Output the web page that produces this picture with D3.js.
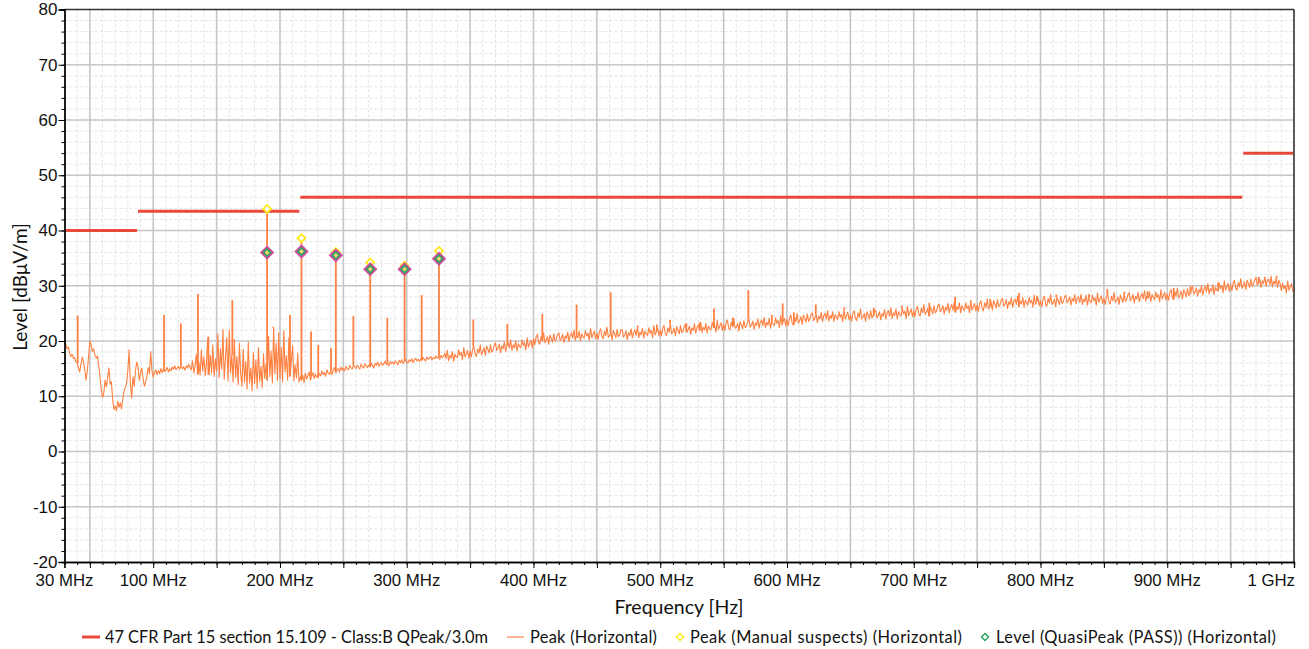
<!DOCTYPE html>
<html><head><meta charset="utf-8">
<script src="https://cdn.jsdelivr.net/npm/d3@7"></script>
<style>
body{margin:0;background:#fff;}
svg{display:block;font-family:"Segoe UI",Lato,"Noto Sans",sans-serif;}
</style></head><body>
<svg id="c" width="1309" height="649"></svg>
<script>
// ---------- data ----------
const peakStartMHz = 30;
const peakStepMHz = 1;
const peakLevels = [
20.2,19.5,18.6,18.9,17.8,17.2,17.6,16.8,17.0,16.3,
16.0,15.2,14.4,15.8,17.1,16.2,14.8,12.9,14.6,17.2,
20.0,19.3,18.1,18.6,17.4,16.9,17.3,15.6,13.6,11.2,
9.8,10.6,12.9,11.7,13.4,15.1,12.2,12.6,9.4,7.6,
8.2,7.4,9.1,8.0,8.8,7.7,9.5,10.9,11.6,12.4,
14.8,18.2,12.1,9.7,13.5,11.8,14.6,16.2,15.4,12.9,
14.3,15.1,13.2,11.8,12.6,13.5,15.2,14.1,18.1,14.6,
13.5,14.2,14.8,13.9,14.6,14.1,15.0,14.3,14.8,14.5,
14.7,15.2,14.4,15.0,14.6,15.3,14.9,15.5,14.8,15.1,
15.4,14.9,15.6,15.0,15.3,14.7,15.5,15.1,15.8,15.2,
14.8,16.4,14.2,15.5,17.6,14.0,16.2,13.8,18.4,14.6,
17.1,13.7,15.9,20.5,13.9,17.4,14.2,19.3,13.6,16.8,
14.5,21.3,13.4,18.6,14.9,22.1,13.1,16.9,20.6,12.8,
22.0,14.2,17.5,12.6,20.3,13.4,17.2,12.1,19.6,14.0,
11.8,18.5,12.6,16.3,11.3,19.8,12.4,15.1,11.0,17.9,
12.3,16.6,11.4,18.8,12.7,15.4,11.6,17.7,13.2,15.9,
12.9,20.8,13.6,18.2,12.4,22.4,14.1,19.6,12.8,21.5,
13.3,18.9,12.6,21.9,14.4,17.3,12.9,20.6,13.6,16.4,
19.2,12.8,15.7,13.3,17.8,12.6,13.5,12.9,13.8,12.5,
14.2,13.1,13.7,14.4,12.9,13.6,14.3,13.2,14.0,13.5,
13.4,14.1,13.7,14.6,13.9,14.3,13.6,14.8,14.2,14.0,
14.5,13.9,14.7,15.2,14.3,14.8,15.0,14.4,15.3,14.7,
15.1,14.6,15.4,15.0,14.8,15.6,15.2,14.9,15.7,15.3,
15.0,15.6,15.2,14.9,15.8,15.4,15.1,15.9,15.5,15.2,
15.7,15.3,16.0,15.5,15.1,15.9,15.6,16.2,15.4,15.8,
16.1,15.6,15.9,16.4,15.7,16.0,15.5,16.3,15.9,16.2,
15.8,16.4,16.0,15.7,16.5,16.1,16.6,15.9,16.3,16.7,
16.2,16.0,16.6,16.3,16.8,16.1,16.5,16.9,16.4,16.7,
16.3,16.8,16.5,17.0,16.6,16.4,17.1,16.7,16.9,17.2,
16.6,17.0,16.8,17.3,16.9,17.1,16.7,17.4,17.0,17.2,
17.8,16.8,18.3,16.4,17.4,16.9,18.1,16.3,17.6,17.1,
17.0,18.4,17.4,17.9,16.6,18.8,17.1,17.7,18.3,16.9,
18.2,17.1,18.5,19.0,17.6,17.2,18.6,17.8,19.3,17.5,
18.1,18.8,17.4,19.1,18.5,17.8,19.3,18.0,18.3,19.2,
19.7,18.3,18.7,19.4,17.9,19.1,18.6,19.8,18.1,19.2,
19.7,18.7,20.2,18.3,19.3,18.8,20.0,18.2,19.5,19.0,
18.8,20.2,19.2,19.7,18.4,20.6,18.9,19.5,20.1,18.7,
20.4,19.3,20.7,21.2,19.8,19.4,20.8,20.0,21.5,19.7,
20.1,20.8,19.4,21.1,20.5,19.8,21.3,20.0,20.3,21.2,
21.5,20.1,20.5,21.2,19.7,20.9,20.4,21.6,19.9,21.0,
21.5,20.5,22.0,20.1,21.1,20.6,21.8,20.0,21.3,20.8,
20.5,21.9,20.9,21.4,20.1,22.3,20.6,21.2,21.8,20.4,
21.4,20.3,21.7,22.2,20.8,20.4,21.8,21.0,22.5,20.7,
20.9,21.6,20.2,21.9,21.3,20.6,22.1,20.8,21.1,22.0,
22.1,20.7,21.1,21.8,20.3,21.5,21.0,22.2,20.5,21.6,
22.0,21.0,22.5,20.6,21.6,21.1,22.3,20.5,21.8,21.3,
21.0,22.4,21.4,21.9,20.6,22.8,21.1,21.7,22.3,20.9,
22.0,20.9,22.3,22.8,21.4,21.0,22.4,21.6,23.1,21.3,
21.6,22.3,20.9,22.6,22.0,21.3,22.8,21.5,21.8,22.7,
23.0,21.6,22.0,22.7,21.2,22.4,21.9,23.1,21.4,22.5,
22.9,21.9,23.4,21.5,22.5,22.0,23.2,21.4,22.7,22.2,
22.0,23.4,22.4,22.9,21.6,23.8,22.1,22.7,23.3,21.9,
23.0,21.9,23.3,23.8,22.4,22.0,23.4,22.6,24.1,22.3,
22.5,23.2,21.8,23.5,22.9,22.2,23.7,22.4,22.7,23.6,
23.9,22.5,22.9,23.6,22.1,23.3,22.8,24.0,22.3,23.4,
23.8,22.8,24.3,22.4,23.4,22.9,24.1,22.3,23.6,23.1,
22.8,24.2,23.2,23.7,22.4,24.6,22.9,23.5,24.1,22.7,
23.9,22.8,24.2,24.7,23.3,22.9,24.3,23.5,25.0,23.2,
23.7,24.4,23.0,24.7,24.1,23.4,24.9,23.6,23.9,24.8,
25.1,23.7,24.1,24.8,23.3,24.5,24.0,25.2,23.5,24.6,
25.0,24.0,25.5,23.6,24.6,24.1,25.3,23.5,24.8,24.3,
23.9,25.3,24.3,24.8,23.5,25.7,24.0,24.6,25.2,23.8,
24.7,23.6,25.0,25.5,24.1,23.7,25.1,24.3,25.8,24.0,
24.3,25.0,23.6,25.3,24.7,24.0,25.5,24.2,24.5,25.4,
25.6,24.2,24.6,25.3,23.8,25.0,24.5,25.7,24.0,25.1,
25.5,24.5,26.0,24.1,25.1,24.6,25.8,24.0,25.3,24.8,
24.5,25.9,24.9,25.4,24.1,26.3,24.6,25.2,25.8,24.4,
25.5,24.4,25.8,26.3,24.9,24.5,25.9,25.1,26.6,24.8,
25.2,25.9,24.5,26.2,25.6,24.9,26.4,25.1,25.4,26.3,
26.7,25.3,25.7,26.4,24.9,26.1,25.6,26.8,25.1,26.2,
26.6,25.6,27.1,25.2,26.2,25.7,26.9,25.1,26.4,25.9,
25.5,26.9,25.9,26.4,25.1,27.3,25.6,26.2,26.8,25.4,
26.5,25.4,26.8,27.3,25.9,25.5,26.9,26.1,27.6,25.8,
26.3,27.0,25.6,27.3,26.7,26.0,27.5,26.2,26.5,27.4,
27.7,26.3,26.7,27.4,25.9,27.1,26.6,27.8,26.1,27.2,
27.6,26.6,28.1,26.2,27.2,26.7,27.9,26.1,27.4,26.9,
26.5,27.9,26.9,27.4,26.1,28.3,26.6,27.2,27.8,26.4,
27.3,26.2,27.6,28.1,26.7,26.3,27.7,26.9,28.4,26.6,
26.9,27.6,26.2,27.9,27.3,26.6,28.1,26.8,27.1,28.0,
28.3,26.9,27.3,28.0,26.5,27.7,27.2,28.4,26.7,27.8,
28.0,27.0,28.5,26.6,27.6,27.1,28.3,26.5,27.8,27.3,
26.9,28.3,27.3,27.8,26.5,28.7,27.0,27.6,28.2,26.8,
27.7,26.6,28.0,28.5,27.1,26.7,28.1,27.3,28.8,27.0,
27.3,28.0,26.6,28.3,27.7,27.0,28.5,27.2,27.5,28.4,
28.7,27.3,27.7,28.4,26.9,28.1,27.6,28.8,27.1,28.2,
28.6,27.6,29.1,27.2,28.2,27.7,28.9,27.1,28.4,27.9,
27.5,28.9,27.9,28.4,27.1,29.3,27.6,28.2,28.8,27.4,
28.5,27.4,28.8,29.3,27.9,27.5,28.9,28.1,29.6,27.8,
28.3,29.0,27.6,29.3,28.7,28.0,29.5,28.2,28.5,29.4,
29.9,28.5,28.9,29.6,28.1,29.3,28.8,30.0,28.3,29.4,
29.9,28.9,30.4,28.5,29.5,29.0,30.2,28.4,29.7,29.2,
29.1,30.5,29.5,30.0,28.7,30.9,29.2,29.8,30.4,29.0,
30.2,29.1,30.5,31.0,29.6,29.2,30.6,29.8,31.3,29.5,
30.0,30.7,29.3,31.0,30.4,29.7,31.2,29.9,30.2,31.1,
31.5,30.1,30.5,31.2,29.7,30.9,30.4,31.6,29.9,31.0,
31.2,30.2,31.7,29.8,30.8,30.3,31.5,29.7,31.0,30.5,
29.1,30.5,29.5,30.0,28.7,30.9,29.2,29.8,30.4,29.0,
29.2
];
const spikeFreqs  = [40.4,81.0,108.5,121.8,135.3,143.5,162.4,189.84,194.7,207.9,216.96,224.5,230.2,240.3,244.08,257.9,271.2,284.7,298.32,311.8,325.44,352.5,379.4,407.0,434.0,460.9,482.3,497.4,507.7,520.6,531.2,542.4,557.3,569.5,588.1,596.6,605.4,622.7,645.2,668.4,690.6,712.3,732.6,745.1,760.4,783.0,797.2,812.5,838.3,852.7,866.2,884.4,905.1,918.3,940.2,958.4,972.1,986.4];
const spikeLevels = [24.6,18.4,24.7,23.2,28.5,20.8,27.4,43.9,22.6,24.7,38.6,21.7,19.3,18.7,36.1,24.5,34.2,24.2,33.6,28.3,36.3,23.9,23.1,24.9,26.6,28.8,22.8,23.0,23.8,23.2,23.4,25.9,24.2,29.2,24.7,26.8,25.2,26.6,26.1,26.0,26.4,26.9,28.0,27.4,27.6,28.7,28.2,28.4,28.5,29.4,28.9,29.0,29.6,29.9,30.6,31.3,31.6,31.8];

const limitStartMHz = [30, 88, 216, 960];
const limitEndMHz   = [88, 216, 960, 1000];
const limitLevels   = [40, 43.5, 46, 54];

const suspectFreqs = [189.84, 216.96, 244.08, 271.2, 298.32, 325.44];
const suspectPeaks = [43.9, 38.6, 36.1, 34.2, 33.6, 36.3];
const qpLevels     = [36.0, 36.2, 35.5, 33.0, 33.0, 34.9];

const xTickValues = [30,100,200,300,400,500,600,700,800,900,1000];
const xTickLabels = ["30 MHz","100 MHz","200 MHz","300 MHz","400 MHz","500 MHz","600 MHz","700 MHz","800 MHz","900 MHz","1 GHz"];
const yTickValues = [-20,-10,0,10,20,30,40,50,60,70,80];

const legendLabels = ["47 CFR Part 15 section 15.109 - Class:B QPeak/3.0m","Peak (Horizontal)","Peak (Manual suspects) (Horizontal)","Level (QuasiPeak (PASS)) (Horizontal)"];

// ---------- scales ----------
const svg = d3.select("#c");
const L = 64.5, R = 1294, T = 9.5, B = 562;
const x = d3.scaleLinear().domain([30,1000]).range([L,R]);
const y = d3.scaleLinear().domain([-20,80]).range([B,T]);

const COL_LIMIT = "#e8493b", COL_PEAK = "#ff8040", COL_PEAK_LEG = "#ffb590",
      COL_YEL = "#ffe81a", COL_GRN = "#2aa35e", COL_MAG = "#cf4d9c";

// ---------- grid ----------
const g = svg.append("g");
const minorX = d3.range(40, 1000, 10).filter(v => v % 50 !== 0);
const majorX = d3.range(50, 1001, 50);
const minorY = d3.range(-18, 80, 2).filter(v => v % 10 !== 0);
const majorY = d3.range(-10, 80, 10);
g.selectAll(".mnx").data(minorX).join("line")
  .attr("x1", d => x(d)).attr("x2", d => x(d)).attr("y1", T).attr("y2", B)
  .attr("stroke", "#e3e3e3").attr("stroke-dasharray", "3,2");
g.selectAll(".mny").data(minorY).join("line")
  .attr("y1", d => y(d)).attr("y2", d => y(d)).attr("x1", L).attr("x2", R)
  .attr("stroke", "#e3e3e3").attr("stroke-dasharray", "3,2");
g.selectAll(".mjx").data(majorX).join("line")
  .attr("x1", d => x(d)).attr("x2", d => x(d)).attr("y1", T).attr("y2", B)
  .attr("stroke", "#c6c6c6").attr("stroke-width", 1.6);
g.selectAll(".mjy").data(majorY).join("line")
  .attr("y1", d => y(d)).attr("y2", d => y(d)).attr("x1", L).attr("x2", R)
  .attr("stroke", "#c6c6c6").attr("stroke-width", 1.6);

// ---------- limit ----------
svg.append("g").selectAll("line").data(limitLevels).join("line")
  .attr("x1", (d,i) => x(limitStartMHz[i])).attr("x2", (d,i) => x(limitEndMHz[i]) - 1)
  .attr("y1", d => y(d)).attr("y2", d => y(d))
  .attr("stroke", COL_LIMIT).attr("stroke-width", 3);

// ---------- peak trace ----------
const peakData = peakLevels.map((v,i) => [peakStartMHz + i*peakStepMHz, v]);
const line = d3.line().x(d => x(d[0])).y(d => y(d[1]));
svg.append("path").datum(peakData).attr("d", line)
  .attr("fill", "none").attr("stroke", COL_PEAK).attr("stroke-width", 1.1).attr("stroke-linejoin","round");
function baseAt(f){ const i = Math.round((f - peakStartMHz)/peakStepMHz); return peakLevels[Math.max(0, Math.min(peakLevels.length-1, i))]; }
svg.append("g").selectAll("line").data(spikeFreqs).join("line")
  .attr("x1", d => x(d)).attr("x2", d => x(d))
  .attr("y1", d => y(baseAt(d))).attr("y2", (d,i) => y(spikeLevels[i]))
  .attr("stroke", COL_PEAK).attr("stroke-width", 1.8);

// ---------- markers ----------
const dia = (r) => `M0,${-r}L${r},0L0,${r}L${-r},0Z`;
svg.append("g").selectAll("path").data(suspectFreqs).join("path")
  .attr("transform", (d,i) => `translate(${x(d)},${y(suspectPeaks[i])})`)
  .attr("d", dia(4)).attr("fill", "#fff").attr("stroke", COL_YEL).attr("stroke-width", 1.8);
const qp = svg.append("g").selectAll("g").data(suspectFreqs).join("g")
  .attr("transform", (d,i) => `translate(${x(d)},${y(qpLevels[i])})`);
qp.append("path").attr("d", dia(7.2)).attr("fill", COL_MAG);
qp.append("path").attr("d", dia(3.6)).attr("fill", "#f3d27a").attr("stroke", COL_GRN).attr("stroke-width", 1.6);

// ---------- axes ----------
svg.append("line").attr("x1", L).attr("x2", R).attr("y1", T).attr("y2", T).attr("stroke", "#333").attr("stroke-width", 1.5);
svg.append("line").attr("x1", R).attr("x2", R).attr("y1", T).attr("y2", B).attr("stroke", "#333").attr("stroke-width", 1.5);

const ax = svg.append("g").attr("transform", `translate(0,${B})`);
ax.call(d3.axisBottom(x).tickValues(d3.range(40,1000,10)).tickSize(3).tickFormat(""));
ax.append("g").call(d3.axisBottom(x).tickValues([30].concat(majorX)).tickSize(6).tickFormat(""));
ax.selectAll("path.domain").attr("stroke", "#000").attr("stroke-width", 1.3);
ax.selectAll(".tick line").attr("stroke", "#000");
ax.selectAll(".xl").data(xTickValues).join("text")
  .attr("x", d => d === 1000 ? x(d) + 1 : x(d)).attr("y", 24)
  .attr("text-anchor", d => d === 1000 ? "end" : "middle")
  .attr("font-size", 16.8).attr("fill", "#111")
  .text((d,i) => xTickLabels[i]);

const ay = svg.append("g").attr("transform", `translate(${L},0)`);
ay.call(d3.axisLeft(y).tickValues(d3.range(-20,81,2)).tickSize(3).tickFormat(""));
ay.append("g").call(d3.axisLeft(y).tickValues(yTickValues).tickSize(6).tickFormat(""));
ay.selectAll("path.domain").attr("stroke", "#000").attr("stroke-width", 1.3);
ay.selectAll(".tick line").attr("stroke", "#000");
ay.selectAll(".yl").data(yTickValues).join("text")
  .attr("x", -7).attr("y", d => y(d)).attr("dy", "0.35em")
  .attr("text-anchor", "end").attr("font-size", 17).attr("fill", "#111")
  .text(d => d);

svg.append("text").attr("x", 679).attr("y", 614).attr("text-anchor", "middle")
  .attr("font-size", 19.5).attr("fill", "#111").text("Frequency [Hz]");
svg.append("text").attr("transform", "translate(27,287) rotate(-90)").attr("text-anchor", "middle")
  .attr("font-size", 19).attr("fill", "#111").text("Level [dBμV/m]");

// ---------- legend ----------
const lg = svg.append("g").attr("font-size", 16.4).attr("fill", "#111");
const LY = 637;
const legendTextX = [105, 530, 690, 996];
const legendTextW = [383, 127, 272, 280];
lg.append("line").attr("x1", 82).attr("x2", 100).attr("y1", LY).attr("y2", LY).attr("stroke", COL_LIMIT).attr("stroke-width", 3);
lg.append("line").attr("x1", 507).attr("x2", 524).attr("y1", LY).attr("y2", LY).attr("stroke", COL_PEAK_LEG).attr("stroke-width", 2);
lg.append("path").attr("transform", `translate(680,${LY})`).attr("d", dia(3.5)).attr("fill", "#fff").attr("stroke", COL_YEL).attr("stroke-width", 1.5);
lg.append("path").attr("transform", `translate(985,${LY})`).attr("d", dia(3.5)).attr("fill", "#fff").attr("stroke", COL_GRN).attr("stroke-width", 1.5);
lg.selectAll("text").data(legendLabels).join("text")
  .attr("x", (d,i) => legendTextX[i]).attr("y", LY).attr("dy", "0.35em")
  .attr("textLength", (d,i) => legendTextW[i]).attr("lengthAdjust", "spacing")
  .text(d => d);
</script>
</body></html>
